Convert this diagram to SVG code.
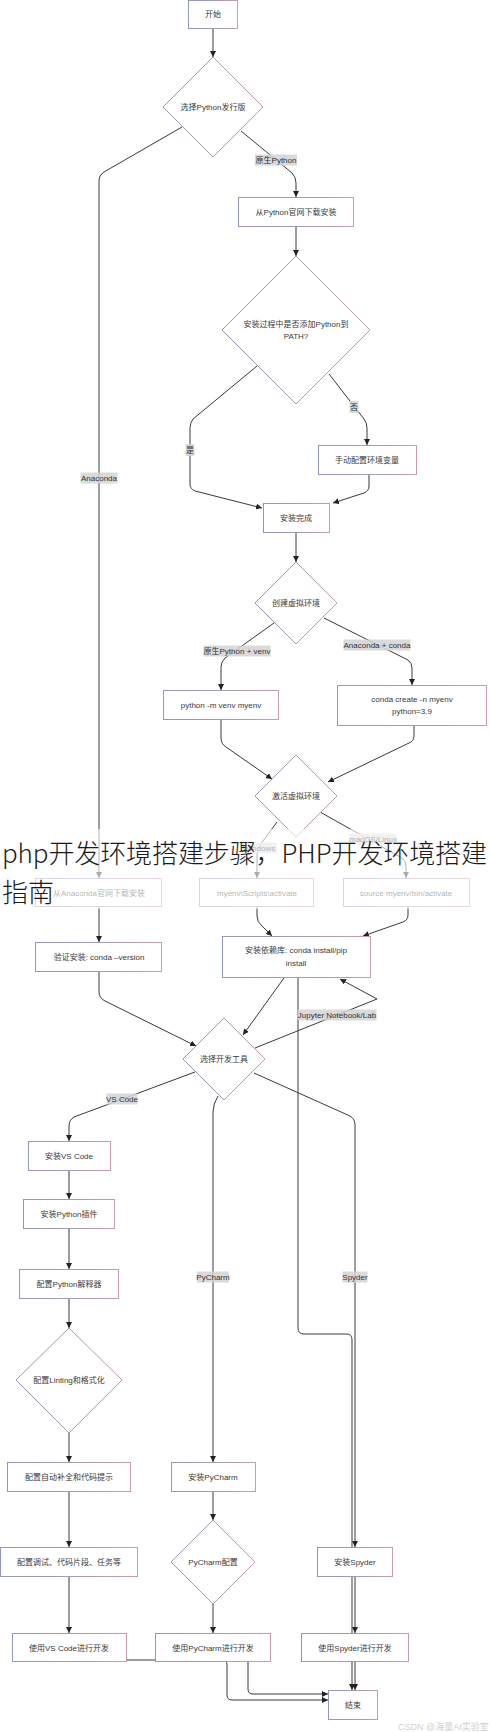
<svg xmlns="http://www.w3.org/2000/svg" width="490" height="1732" viewBox="0 0 490 1732">
<defs>
<linearGradient id="bd" x1="0" y1="0" x2="1" y2="0">
<stop offset="0" stop-color="#9298bb"/>
<stop offset="0.5" stop-color="#a29cad"/>
<stop offset="1" stop-color="#c89ca8"/>
</linearGradient>
<marker id="ar" markerUnits="userSpaceOnUse" markerWidth="6" markerHeight="6" refX="6" refY="3" orient="auto">
<path d="M0,0 L6,3 L0,6 z" fill="#222"/>
</marker>
</defs>
<style>
.n rect,.n polygon{fill:#fff;stroke:url(#bd);stroke-width:1}
.n text{font-family:"Liberation Sans","Noto Sans CJK SC",sans-serif;font-size:8px;fill:#3a3a3a;text-anchor:middle}
.e path{fill:none;stroke:#3a3a3a;stroke-width:1}
.e path.a{marker-end:url(#ar)}
.l rect{fill:#d4d4d4;opacity:0.85}
.l text{font-family:"Liberation Sans","Noto Sans CJK SC",sans-serif;font-size:8px;fill:#333;text-anchor:middle}
</style>
<rect width="490" height="1732" fill="#fff"/>
<g id="connectors" class="e">
<path class="a" d="M213,29 V57"/>
<path class="a" d="M182,127 L104,172 Q99,175 99,181 V878"/>
<path class="a" d="M241,131 L292,173 Q296,177 296,183 V197"/>
<path class="a" d="M296,227 V256"/>
<path class="a" d="M257,366 L193,419 Q190,423 190,428 V484 Q190,489 195,491 L262,508"/>
<path class="a" d="M329,374 L364,419 Q367,423 367,428 V445"/>
<path class="a" d="M369,475 V486 Q369,491 364,493 L333,503"/>
<path class="a" d="M296,533 V562"/>
<path class="a" d="M274,623 L225,658 Q221,662 221,667 V690"/>
<path class="a" d="M324,618 L408,660 Q412,663 412,668 V685"/>
<path class="a" d="M221,720 V738 Q221,744 226,747 L272,779"/>
<path class="a" d="M414,726 V736 Q414,741 409,743 L328,782"/>
<path class="a" d="M277,822 L260,845 Q257,849 257,854 V878"/>
<path class="a" d="M320,812 L402,858 Q406,861 406,866 V878"/>
<path class="a" d="M99,907 V942"/>
<path class="a" d="M257,907 V916 Q257,922 262,926 L272,936"/>
<path class="a" d="M408,907 V915 Q408,920 403,922 L363,936"/>
<path class="a" d="M99,972 V992 Q99,998 105,1001 L196,1046"/>
<path class="a" d="M284,978 L243,1035"/>
<path class="a" d="M255,1048 L377,999 L340,979"/>
<path class="a" d="M195,1072 L74,1117 Q69,1120 69,1126 V1141"/>
<path class="a" d="M218,1096 Q213,1104 213,1112 V1462"/>
<path class="a" d="M254,1073 L350,1116 Q355,1119 355,1125 V1547"/>
<path class="a" d="M298,978 V1328 Q298,1334 304,1334 L347,1334 Q352,1334 352,1340 V1690"/>
<path class="a" d="M69,1171 V1199"/>
<path class="a" d="M69,1229 V1269"/>
<path class="a" d="M69,1299 V1328"/>
<path class="a" d="M69,1433 V1462"/>
<path class="a" d="M69,1492 V1547"/>
<path class="a" d="M69,1577 V1633"/>
<path class="a" d="M213,1492 V1520"/>
<path class="a" d="M213,1604 V1633"/>
<path class="a" d="M355,1577 V1633"/>
<path class="a" d="M355,1662 V1690"/>
<path class="a" d="M127,1660 H222 Q227,1660 227,1665 V1695 Q227,1700 232,1700 H328"/>
<path class="a" d="M248,1662 V1689 Q248,1694 253,1694 H328"/>
</g>
<g id="edge-labels" class="l">
<rect x="80.5" y="472.5" width="37" height="11"/><text x="99" y="481">Anaconda</text>
<rect x="255" y="154.5" width="42" height="11"/><text x="276" y="163">原生Python</text>
<rect x="185.5" y="444" width="9" height="12"/><text x="190" y="453">是</text>
<rect x="349.5" y="401" width="9" height="12"/><text x="354" y="410">否</text>
<rect x="203.5" y="645.5" width="67" height="11"/><text x="237" y="654">原生Python + venv</text>
<rect x="343.5" y="639.5" width="67" height="11"/><text x="377" y="648">Anaconda + conda</text>
<rect x="241" y="842.5" width="36" height="11"/><text x="259" y="851">Windows</text>
<rect x="349.5" y="833.5" width="47" height="11"/><text x="373" y="842">macOS/Linux</text>
<rect x="297.5" y="1009.5" width="79" height="11"/><text x="337" y="1018">Jupyter Notebook/Lab</text>
<rect x="106.5" y="1093.5" width="31" height="11"/><text x="122" y="1102">VS Code</text>
<rect x="197" y="1271.5" width="32" height="11"/><text x="213" y="1280">PyCharm</text>
<rect x="342.5" y="1271.5" width="25" height="11"/><text x="355" y="1280">Spyder</text>
</g>
<g id="n-start" class="n"><rect x="188.5" y="0.5" width="49" height="28"/><text x="213" y="17">开始</text></g>
<g id="n-choose" class="n"><polygon points="213,57 263,107 213,157 163,107"/><text x="213" y="110">选择Python发行版</text></g>
<g id="n-pydl" class="n"><rect x="238.5" y="197.5" width="115" height="29"/><text x="296" y="215">从Python官网下载安装</text></g>
<g id="n-path" class="n"><polygon points="296,256 370,330 296,404 222,330"/><text x="296" y="327">安装过程中是否添加Python到</text><text x="296" y="339">PATH?</text></g>
<g id="n-manual" class="n"><rect x="318.5" y="445.5" width="98" height="29"/><text x="367" y="463">手动配置环境变量</text></g>
<g id="n-done" class="n"><rect x="263.5" y="503.5" width="66" height="29"/><text x="296" y="521">安装完成</text></g>
<g id="n-venvq" class="n"><polygon points="296,562 337,603 296,644 255,603"/><text x="296" y="606">创建虚拟环境</text></g>
<g id="n-venv" class="n"><rect x="163.5" y="690.5" width="115" height="29"/><text x="221" y="708">python -m venv myenv</text></g>
<g id="n-conda" class="n"><rect x="337.5" y="685.5" width="149" height="40"/><text x="412" y="702">conda create -n myenv</text><text x="412" y="714">python=3.9</text></g>
<g id="n-activate" class="n"><polygon points="296,755 337,796 296,837 255,796"/><text x="296" y="799">激活虚拟环境</text></g>
<g id="n-anadl" class="n"><rect x="35.5" y="878.5" width="126" height="28"/><text x="99" y="896">从Anaconda官网下载安装</text></g>
<g id="n-win" class="n"><rect x="199.5" y="878.5" width="114" height="28"/><text x="257" y="896">myenv\Scripts\activate</text></g>
<g id="n-mac" class="n"><rect x="343.5" y="878.5" width="126" height="28"/><text x="406" y="896">source myenv/bin/activate</text></g>
<g id="n-verify" class="n"><rect x="35.5" y="942.5" width="126" height="29"/><text x="99" y="960">验证安装: conda –version</text></g>
<g id="n-deps" class="n"><rect x="222.5" y="936.5" width="148" height="41"/><text x="296" y="953">安装依赖库: conda install/pip</text><text x="296" y="966">install</text></g>
<g id="n-tool" class="n"><polygon points="224,1018 265,1059 224,1100 183,1059"/><text x="224" y="1062">选择开发工具</text></g>
<g id="n-vsc" class="n"><rect x="28.5" y="1141.5" width="82" height="29"/><text x="69" y="1159">安装VS Code</text></g>
<g id="n-pyplug" class="n"><rect x="23.5" y="1199.5" width="91" height="29"/><text x="69" y="1217">安装Python插件</text></g>
<g id="n-interp" class="n"><rect x="19.5" y="1269.5" width="99" height="29"/><text x="69" y="1287">配置Python解释器</text></g>
<g id="n-lint" class="n"><polygon points="69,1328 122,1380 69,1433 16,1380"/><text x="69" y="1383">配置Linting和格式化</text></g>
<g id="n-auto" class="n"><rect x="7.5" y="1462.5" width="123" height="29"/><text x="69" y="1480">配置自动补全和代码提示</text></g>
<g id="n-debug" class="n"><rect x="0.5" y="1547.5" width="137" height="29"/><text x="69" y="1565">配置调试、代码片段、任务等</text></g>
<g id="n-usevsc" class="n"><rect x="12.5" y="1633.5" width="114" height="28"/><text x="69" y="1651">使用VS Code进行开发</text></g>
<g id="n-inpc" class="n"><rect x="171.5" y="1462.5" width="84" height="29"/><text x="213" y="1480">安装PyCharm</text></g>
<g id="n-pccfg" class="n"><polygon points="213,1520 255,1562 213,1604 171,1562"/><text x="213" y="1565">PyCharm配置</text></g>
<g id="n-usepc" class="n"><rect x="155.5" y="1633.5" width="115" height="28"/><text x="213" y="1651">使用PyCharm进行开发</text></g>
<g id="n-inspy" class="n"><rect x="317.5" y="1547.5" width="75" height="29"/><text x="355" y="1565">安装Spyder</text></g>
<g id="n-usespy" class="n"><rect x="301.5" y="1633.5" width="107" height="28"/><text x="355" y="1651">使用Spyder进行开发</text></g>
<g id="n-end" class="n"><rect x="328.5" y="1690.5" width="49" height="29"/><text x="353" y="1708">结束</text></g>
<g id="watermark">
<rect x="0" y="829" width="490" height="80" fill="#fff" opacity="0.62"/>
<text x="2" y="863" font-family="Noto Sans CJK SC, sans-serif" font-weight="300" font-size="26" fill="#1a1a1a" textLength="485" lengthAdjust="spacing">php开发环境搭建步骤，PHP开发环境搭建</text>
<text x="2" y="902" font-family="Noto Sans CJK SC, sans-serif" font-weight="300" font-size="26" fill="#1a1a1a">指南</text>
<text x="398" y="1730" font-family="Liberation Sans, Noto Sans CJK SC, sans-serif" font-size="9" fill="#d0d0d0">CSDN @海量AI实验室</text>
</g>
</svg>
